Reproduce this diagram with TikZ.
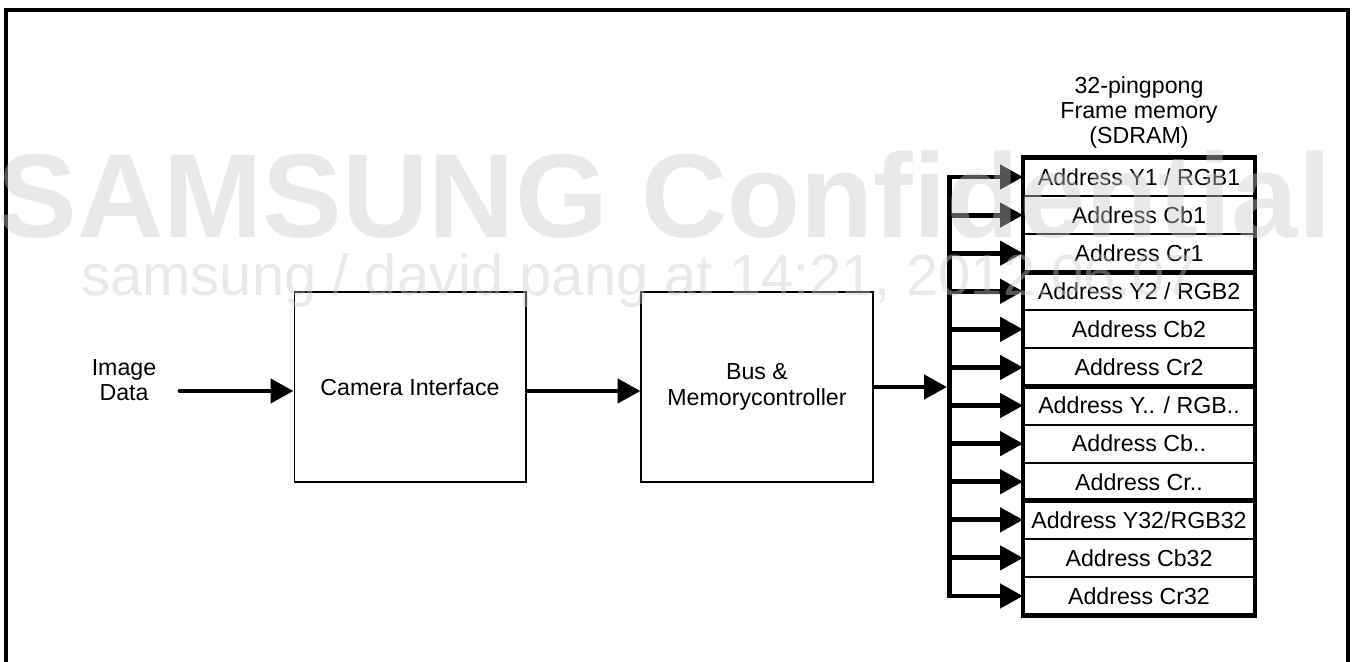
\documentclass[tikz,border=0pt]{standalone}
\usepackage{fontspec}
\usepackage{xcolor}
\setmainfont{Liberation Sans}
\usetikzlibrary{arrows.meta, positioning, calc}
\definecolor{wmgray}{RGB}{202,202,202}

\begin{document}
\begin{tikzpicture}[
x=0.02cm, y=-0.02cm,
font=\fontsize{13.2}{14.4}\selectfont,
block/.style={draw, line width=0.6pt, minimum width=4.64cm, minimum height=3.8cm, align=center},
cell/.style={draw, line width=1.1pt, minimum width=4.64cm, minimum height=0.762cm, outer sep=0pt, inner sep=0pt},
arrow/.style={-{Triangle[length=13pt, width=13.5pt]}, line width=2.8pt},
thickline/.style={line width=2.8pt},
frame/.style={line width=2.3pt},
wmark/.style={text=wmgray, text opacity=0.42, inner sep=0pt, anchor=base west}
]
\useasboundingbox (0,0) rectangle (1355,662);
% outer frame, open at the bottom
\draw[frame] (6,662) -- (6,10) -- (1348,10) -- (1348,662);

\node[block] (cam) at (410,387) {Camera Interface};
\node[block, right=2.28cm of cam] (mem) {Bus \&\\Memorycontroller};
\node[align=center] (img) at (124,380) {Image\\Data};
\coordinate (src) at (180,391);

% frame memory rows
\node[cell] (r1) at (1139,177) {Address Y1 / RGB1};
\node[cell, below=0pt of r1] (r2) {Address Cb1};
\node[cell, below=0pt of r2] (r3) {Address Cr1};
\node[cell, below=0pt of r3] (r4) {Address Y2 / RGB2};
\node[cell, below=0pt of r4] (r5) {Address Cb2};
\node[cell, below=0pt of r5] (r6) {Address Cr2};
\node[cell, below=0pt of r6] (r7) {Address Y.. / RGB..};
\node[cell, below=0pt of r7] (r8) {Address Cb..};
\node[cell, below=0pt of r8] (r9) {Address Cr..};
\node[cell, below=0pt of r9] (r10) {Address Y32/RGB32};
\node[cell, below=0pt of r10] (r11) {Address Cb32};
\node[cell, below=0pt of r11] (r12) {Address Cr32};
\node[align=center, inner sep=0pt, above=0.18cm of r1] (title) {32-pingpong\\Frame memory\\(SDRAM)};

\draw[thickline] (r1.north west) rectangle (r12.south east);
\draw[thickline] (r3.south west) -- (r3.south east);
\draw[thickline] (r6.south west) -- (r6.south east);
\draw[thickline] (r9.south west) -- (r9.south east);

\coordinate[right=1.52cm of mem.east] (bx);

\draw[arrow, line cap=round] (src) -- (src -| cam.west);
\draw[arrow] ([yshift=-0.08cm]cam.east) -- ([yshift=-0.08cm]mem.west);
\draw[arrow, shorten >=1.4pt] (mem.east) -- (bx);

% bus to the rows
\draw[arrow] (r12.west -| bx) -- (r1.west -| bx) -- (r1.west);
\draw[arrow] (r2.west -| bx) -- (r2.west);
\draw[arrow] (r3.west -| bx) -- (r3.west);
\draw[arrow] (r4.west -| bx) -- (r4.west);
\draw[arrow] (r5.west -| bx) -- (r5.west);
\draw[arrow] (r6.west -| bx) -- (r6.west);
\draw[arrow] (r7.west -| bx) -- (r7.west);
\draw[arrow] (r8.west -| bx) -- (r8.west);
\draw[arrow] (r9.west -| bx) -- (r9.west);
\draw[arrow] (r10.west -| bx) -- (r10.west);
\draw[arrow] (r11.west -| bx) -- (r11.west);
\draw[arrow, line cap=rect] (r12.west -| bx) -- (r12.west);

% watermark
\node[wmark, font=\fontsize{68}{68}\selectfont\bfseries] (wm1) at (-3,237) {SAMSUNG Confidential};
\node[wmark, font=\fontsize{33}{33}\selectfont] (wm2) at (81,295) {samsung / david.pang at 14:21, 2012.06.07};
\end{tikzpicture}
\end{document}
